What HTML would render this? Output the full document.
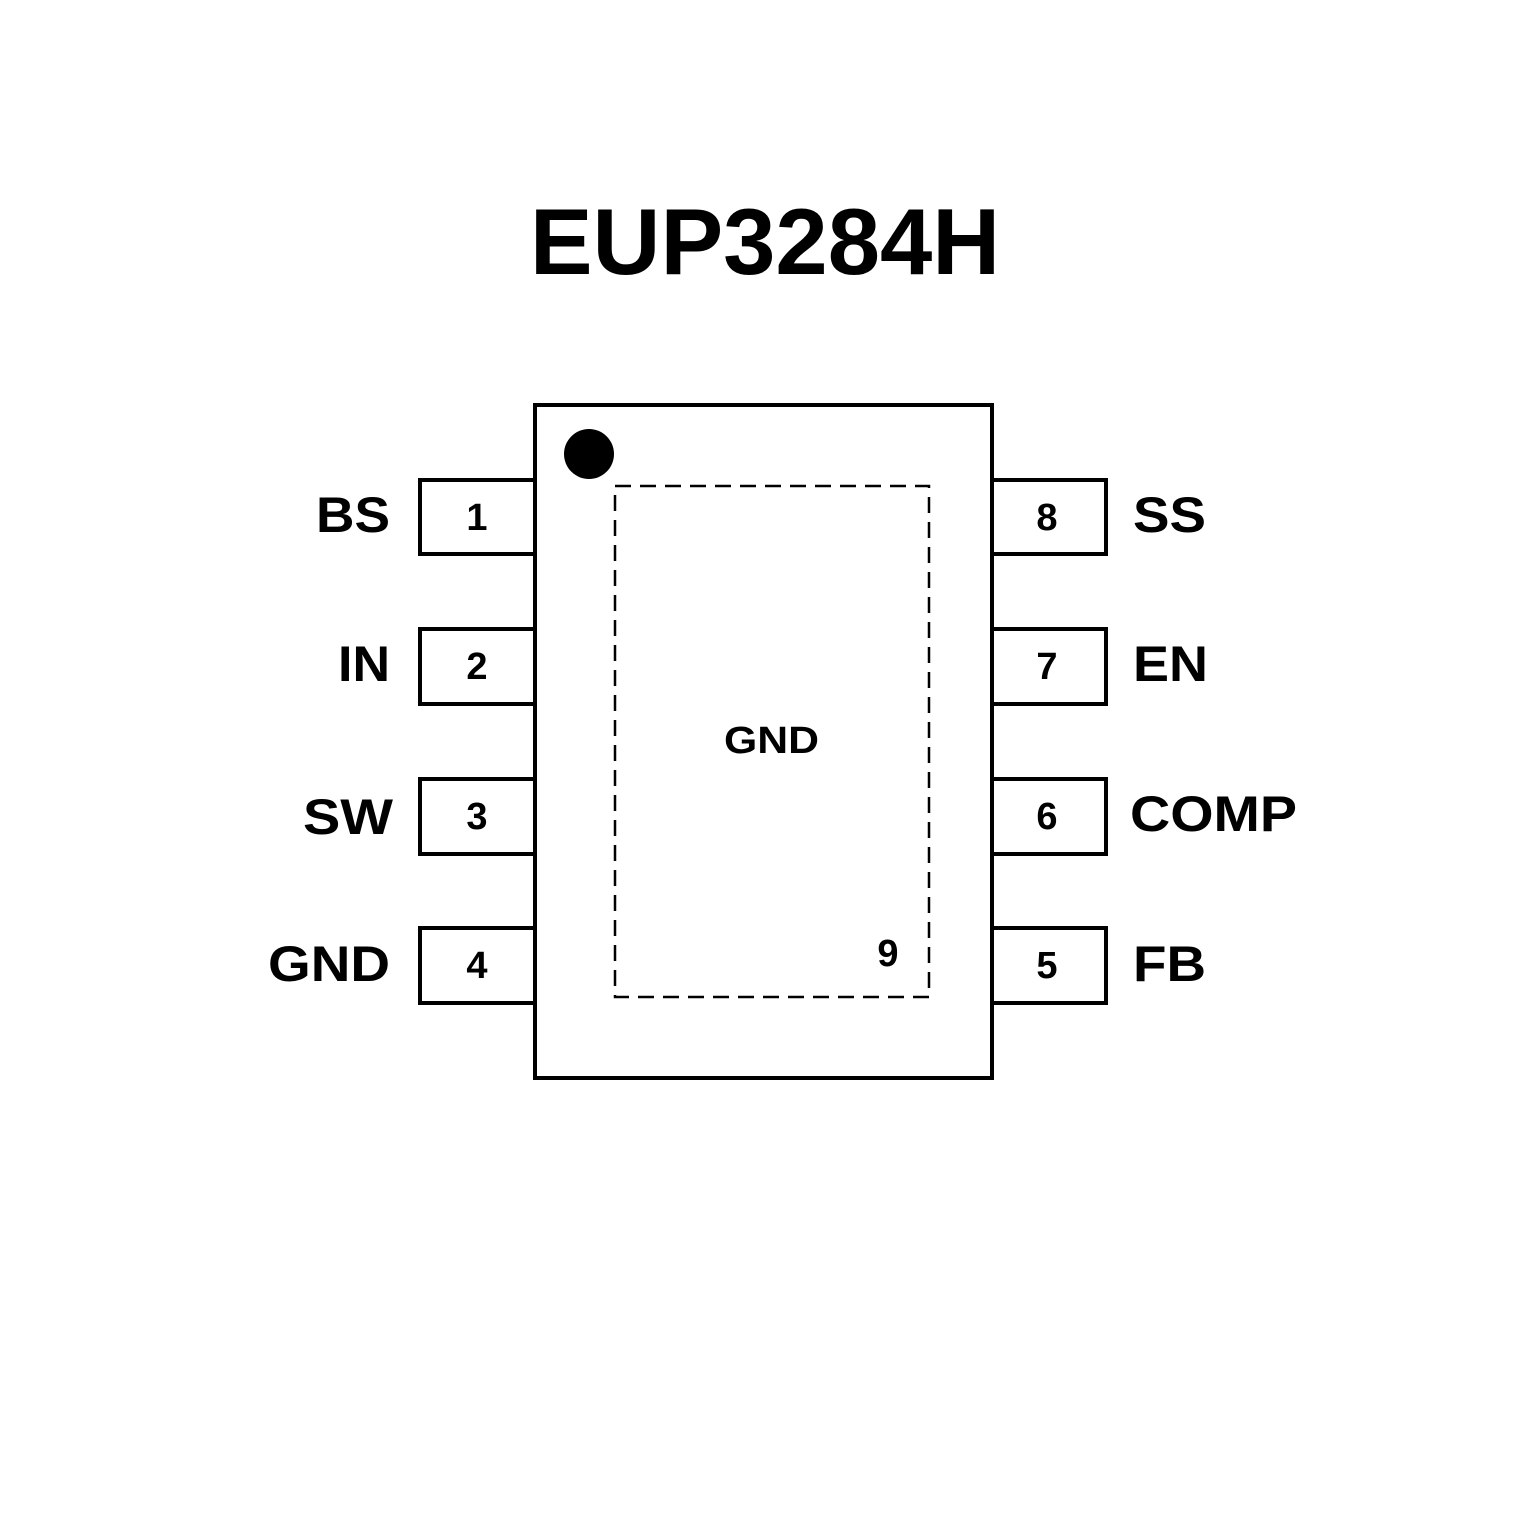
<!DOCTYPE html>
<html><head><meta charset="utf-8"><style>
html,body{margin:0;padding:0;background:#fff;}
svg{display:block;}
text{font-family:"Liberation Sans",Arial,sans-serif;font-weight:bold;fill:#000;}
</style></head><body>
<svg width="1535" height="1535" viewBox="0 0 1535 1535" xmlns="http://www.w3.org/2000/svg">
<rect width="1535" height="1535" fill="#fff"/>
<text x="765" y="274" font-size="94" text-anchor="middle" style="font-family:'Liberation Sans','Noto Sans CJK SC',sans-serif">EUP3284H</text>
<g fill="none" stroke="#000" stroke-width="4">
<rect x="535" y="405" width="457" height="673"/>
<rect x="420" y="480" width="115" height="74"/>
<rect x="420" y="629" width="115" height="75"/>
<rect x="420" y="779" width="115" height="75"/>
<rect x="420" y="928" width="115" height="75"/>
<rect x="992" y="480" width="114" height="74"/>
<rect x="992" y="629" width="114" height="75"/>
<rect x="992" y="779" width="114" height="75"/>
<rect x="992" y="928" width="114" height="75"/>
</g>
<rect x="615" y="486" width="314" height="511" fill="none" stroke="#000" stroke-width="2.5" stroke-dasharray="16,9"/>
<circle cx="589" cy="454" r="25" fill="#000"/>
<g font-size="38" text-anchor="middle">
<text x="477" y="530">1</text><text x="477" y="679">2</text><text x="477" y="829">3</text><text x="477" y="978">4</text>
<text x="1047" y="530">8</text><text x="1047" y="679">7</text><text x="1047" y="829">6</text><text x="1047" y="978">5</text>
</g>
<g font-size="50" lengthAdjust="spacingAndGlyphs">
<text x="316" y="532" textLength="74" lengthAdjust="spacingAndGlyphs">BS</text>
<text x="338" y="681" textLength="52" lengthAdjust="spacingAndGlyphs">IN</text>
<text x="303" y="834" textLength="90" lengthAdjust="spacingAndGlyphs">SW</text>
<text x="268" y="981" textLength="122" lengthAdjust="spacingAndGlyphs">GND</text>
<text x="1133" y="532" textLength="73" lengthAdjust="spacingAndGlyphs">SS</text>
<text x="1133" y="681" textLength="75" lengthAdjust="spacingAndGlyphs">EN</text>
<text x="1130" y="831" textLength="167" lengthAdjust="spacingAndGlyphs">COMP</text>
<text x="1133" y="981" textLength="73" lengthAdjust="spacingAndGlyphs">FB</text>
</g>
<text x="724" y="753" font-size="38" textLength="95" lengthAdjust="spacingAndGlyphs">GND</text>
<text x="888" y="966" font-size="38" text-anchor="middle">9</text>
</svg>
</body></html>
